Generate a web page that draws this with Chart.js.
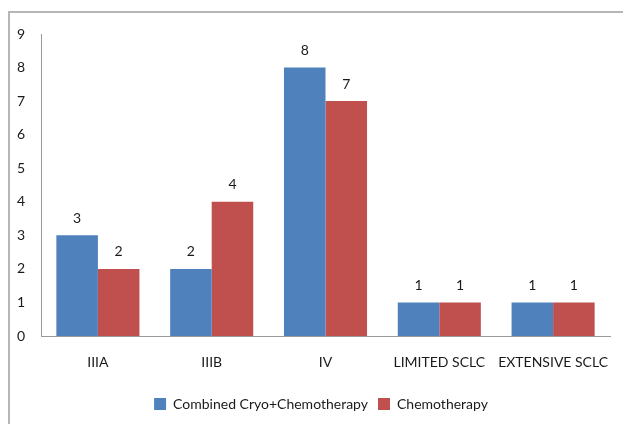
<!DOCTYPE html>
<html>
<head>
<meta charset="utf-8">
<script src="https://cdn.jsdelivr.net/npm/chart.js@4.4.0/dist/chart.umd.min.js"></script>
<style>
  html, body { margin: 0; padding: 0; background: #ffffff; }
  #wrap { position: relative; width: 623px; height: 424px; overflow: hidden; }
  #frame { position: absolute; left: 8px; top: 11px; width: 640px; height: 440px;
           border: 2px solid #b5b5b5; box-sizing: border-box; pointer-events: none; }
  canvas { position: absolute; left: 0; top: 0; }
</style>
</head>
<body>
<div id="wrap">
  <canvas id="chart" width="623" height="424"></canvas>
  <div id="frame"></div>
</div>
<script>
// Stage / type categories and patient counts per treatment arm
const categories = ['IIIA', 'IIIB', 'IV', 'LIMITED SCLC', 'EXTENSIVE SCLC'];
const combinedCryoChemo = [3, 2, 8, 1, 1];
const chemotherapyOnly = [2, 4, 7, 1, 1];
const seriesNames = ['Combined Cryo+Chemotherapy', 'Chemotherapy'];
const yTicks = [0, 1, 2, 3, 4, 5, 6, 7, 8, 9];

const FONT = 'Lato, "Open Sans", sans-serif';
const FSIZE = 14;
const TEXT = '#1a1a1a';

// Writes each bar's value just above it
const valueLabels = {
  id: 'valueLabels',
  afterDatasetsDraw(chart) {
    const ctx = chart.ctx;
    ctx.save();
    ctx.font = FSIZE + 'px ' + FONT;
    ctx.fillStyle = TEXT;
    ctx.textAlign = 'center';
    ctx.textBaseline = 'bottom';
    chart.data.datasets.forEach((ds, i) => {
      chart.getDatasetMeta(i).data.forEach((bar, j) => {
        ctx.fillText(String(ds.data[j]), bar.x, bar.y - 10);
      });
    });
    ctx.restore();
  }
};

// Centres the legend row under the plot area rather than the whole canvas
const legendUnderPlot = {
  id: 'legendUnderPlot',
  afterLayout(chart) {
    if (chart.legend) chart.legend.left = 32;
  }
};

new Chart(document.getElementById('chart'), {
  type: 'bar',
  data: {
    labels: categories,
    datasets: [
      { label: seriesNames[0], data: combinedCryoChemo, backgroundColor: '#4F81BD' },
      { label: seriesNames[1], data: chemotherapyOnly, backgroundColor: '#C0504D' }
    ]
  },
  options: {
    responsive: false,
    animation: false,
    events: [],
    layout: { padding: { top: 34, right: 13, bottom: 3, left: 0 } },
    datasets: { bar: { categoryPercentage: 0.73, barPercentage: 1.0 } },
    scales: {
      x: {
        grid: { display: false, drawTicks: false },
        border: { display: true, color: '#9a9a9a', width: 1 },
        ticks: { color: TEXT, font: { family: FONT, size: FSIZE }, padding: 18,
                 maxRotation: 0, autoSkip: false },
        afterFit(scale) {
          scale.height = 51;
          scale.paddingLeft = 0;
          scale.paddingRight = 0;
        }
      },
      y: {
        min: 0, max: 9,
        grid: { display: false, drawTicks: false },
        border: { display: true, color: '#9a9a9a', width: 1 },
        afterBuildTicks(scale) { scale.ticks = yTicks.map(v => ({ value: v })); },
        ticks: { color: TEXT, font: { family: FONT, size: FSIZE }, padding: 16 },
        afterFit(scale) { scale.width = 41; }
      }
    },
    plugins: {
      legend: {
        position: 'bottom',
        labels: {
          color: TEXT,
          font: { family: FONT, size: FSIZE },
          boxWidth: 12, boxHeight: 12, padding: 10
        }
      },
      tooltip: { enabled: false }
    }
  },
  plugins: [valueLabels, legendUnderPlot]
});
</script>
</body>
</html>
